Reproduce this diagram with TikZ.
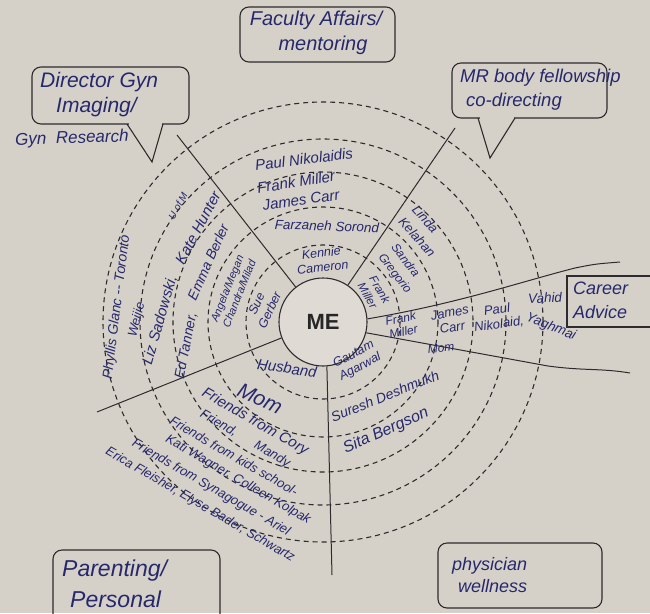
\documentclass[tikz,border=0pt]{standalone}
\usepackage{fontspec}
\setmainfont{Liberation Sans}
\newfontfamily\inkfont{Liberation Sans}
\definecolor{paper}{RGB}{214,209,200}
\definecolor{mefill}{RGB}{223,219,212}
\definecolor{ink}{RGB}{38,40,110}
\definecolor{pen}{RGB}{45,43,45}

\begin{document}
\begin{tikzpicture}[x=1pt,y=-1pt,
  ring/.style={draw=pen, line width=1.1pt, dash pattern=on 5pt off 4pt},
  spoke/.style={draw=pen, line width=1pt},
  box/.style={draw=pen, line width=1.1pt, rounded corners=9pt},
  tail/.style={draw=pen, line width=1.1pt, line join=miter},
  mecircle/.style={circle, draw=pen, line width=1.1pt, fill=mefill,
    minimum size=88pt, inner sep=0pt, text=black!85,
    font=\bfseries\fontsize{22}{22}\selectfont},
  fs/.style 2 args={text=ink, inner sep=0pt, align=center,
    font=\inkfont\itshape\fontsize{#1}{#2}\selectfont}]

% paper and page size
\fill[paper] (0,0) rectangle (650,613);
\useasboundingbox (0,0) rectangle (650,613);
\clip (0,0) rectangle (650,613);

% centre and the five dashed rings
\node[mecircle] (me) at (323,322) {ME};
\foreach \r in {77,115,150,183,220}
  \draw[ring] (me.center) circle (\r);

% spokes between the sectors
\coordinate (ulEnd) at (177,135);
\coordinate (urEnd) at (455,128);
\coordinate (dnEnd) at (332,575);
\coordinate (llEnd) at (97,412);
\coordinate (ftEnd) at (620,262);
\coordinate (fbEnd) at (630,373);
\draw[spoke] (me.128) -- (ulEnd);
\draw[spoke] (me.56) -- (urEnd);
\draw[spoke] (me.275) -- (dnEnd);
\draw[spoke] (me.201) -- (llEnd);
\draw[spoke] (me.4) .. controls (460,303) and (520,282) .. (575,268)
  .. controls (595,264) .. (ftEnd);
\draw[spoke] (me.346) -- (548,366) .. controls (585,371) and (600,368) .. (fbEnd);

% role boxes
\draw[box] (240,7) rectangle (395,62);
\draw[box] (32,67) rectangle (189,124);
\fill[paper] (128.5,122.4) rectangle (161.5,125.6);
\draw[tail] (127,124) -- (152,162) -- (163,124);
\draw[box] (452,63) rectangle (607,118);
\fill[paper] (479.5,116.4) rectangle (513.5,119.6);
\draw[tail] (478,118) -- (490,158) -- (515,118);
\draw[spoke, line width=1.1pt] (652,276) -- (567,276) -- (567,327) -- (652,327);
\draw[box] (53,550) rectangle (220,630);
\draw[box] (438,543) rectangle (602,608);

\node[fs={20}{25}] (fac) at (316,33) {Faculty Affairs/\\\hspace*{14pt}mentoring};
\node[fs={21}{25}, align=left, anchor=west] (dir) at (40,95) {Director Gyn\\\hspace*{16pt}Imaging/};
\node[fs={17}{20}, rotate=2] (gynres) at (72,139) {Gyn\ \ Research};
\node[fs={18.5}{24}, align=left, anchor=west] (mrb) at (460,90) {MR body fellowship\\\hspace*{6pt}co-directing};
\node[fs={18}{24}, align=left, anchor=west] (car) at (573,300) {Career\\Advice};
\node[fs={23}{31}, align=left, anchor=west] (par) at (62,584) {Parenting/\\\hspace*{8pt}Personal};
\node[fs={18}{22}, align=left, anchor=west] (phy) at (452,575) {physician\\\hspace*{6pt}wellness};

% upper sector
\node[fs={15}{15}, rotate=7] (u1) at (304,159) {Paul Nikolaidis};
\node[fs={15}{15}, rotate=9] (u2) at (296,182) {Frank Miller};
\node[fs={15}{15}, rotate=8] (u3) at (301,200) {James Carr};
\node[fs={13.5}{14}, rotate=-2] (u4) at (327,226) {Farzaneh Sorond};
\node[fs={12.5}{14.5}, rotate=6] (u5) at (322,260) {Kennie\\Cameron};

% upper right sector
\node[fs={13}{18}, align=left, rotate=-48] (r1) at (424,231) {Linda\\Kelahan};
\node[fs={12}{16}, align=left, rotate=-53] (r2) at (401,269) {Sandra\\Gregorio};
\node[fs={11.5}{13.5}, align=left, rotate=-60] (r3) at (374,293) {Frank\\Miller};

% career funnel
\node[fs={12}{13.5}, rotate=12] (c1) at (402,325) {Frank\\Miller};
\node[fs={13}{15}, rotate=10] (c2) at (451,320) {James\\Carr};
\node[fs={13}{15}, rotate=8] (c3) at (498,317) {Paul\\Nikolaid,};
\node[fs={13.5}{14}, rotate=3] (c4) at (545,298) {Vahid};
\node[fs={13.5}{14}, rotate=-22] (c5) at (551,327) {Yaghmai};
\node[fs={12}{12}, rotate=5] (c6) at (441,348) {Mom};

% lower right sector
\node[fs={12.5}{14}, rotate=28] (d1) at (357,361) {Gautam\\Agarwal};
\node[fs={14}{14}, rotate=22] (d2) at (385,396) {Suresh Deshmukh};
\node[fs={16}{16}, rotate=24] (d3) at (386,431) {Sita Bergson};

% lower left sector: rows follow the rings
\node[fs={15}{15}, rotate=-8] (f1) at (287,368) {Husband};
\node[fs={21}{21}, rotate=-25] (f2) at (260,399) {Mom};
\node[fs={15}{15}, rotate=-30] (f3) at (255,422) {Friends from Cory};
\node[fs={13}{13}, rotate=-30] (f4) at (245,439) {Friend,\hspace{22pt}Mandy};
\node[fs={13}{13}, rotate=-30] (f5) at (234,456) {Friends from kids school-};
\node[fs={13}{13}, rotate=-30] (f6) at (238,480) {Kati Wagner, Colleen Kolpak};
\node[fs={13}{13}, rotate=-30] (f7) at (211,488) {Friends from Synagogue - Ariel};
\node[fs={13}{13}, rotate=-30] (f8) at (200,505) {Erica Fleisher, Elyse Bader, Schwartz};

% left sector
\node[fs={14}{14}, rotate=83] (l1) at (117,307) {Phyllis Glanc -- Toronto};
\node[fs={13}{13}, rotate=76] (l2) at (137,320) {Weijie};
\node[fs={15}{15}, rotate=74] (l3) at (160,320) {Liz Sadowski,};
\node[fs={15}{15}, rotate=62] (l4) at (198,228) {Kate Hunter};
\node[fs={10}{10}, rotate=62] (l5) at (178,206) {U of M};
\node[fs={14}{14}, rotate=79] (l6) at (186,346) {Ed Tanner,};
\node[fs={14}{14}, rotate=66] (l7) at (208,262) {Emma Berler};
\node[fs={11}{13}, rotate=68] (l8) at (233,291) {Angela/Megan\\Chandra/Milad};
\node[fs={12.5}{14.5}, rotate=65] (l9) at (263,307) {Sue\\Gerber};
\end{tikzpicture}
\end{document}
